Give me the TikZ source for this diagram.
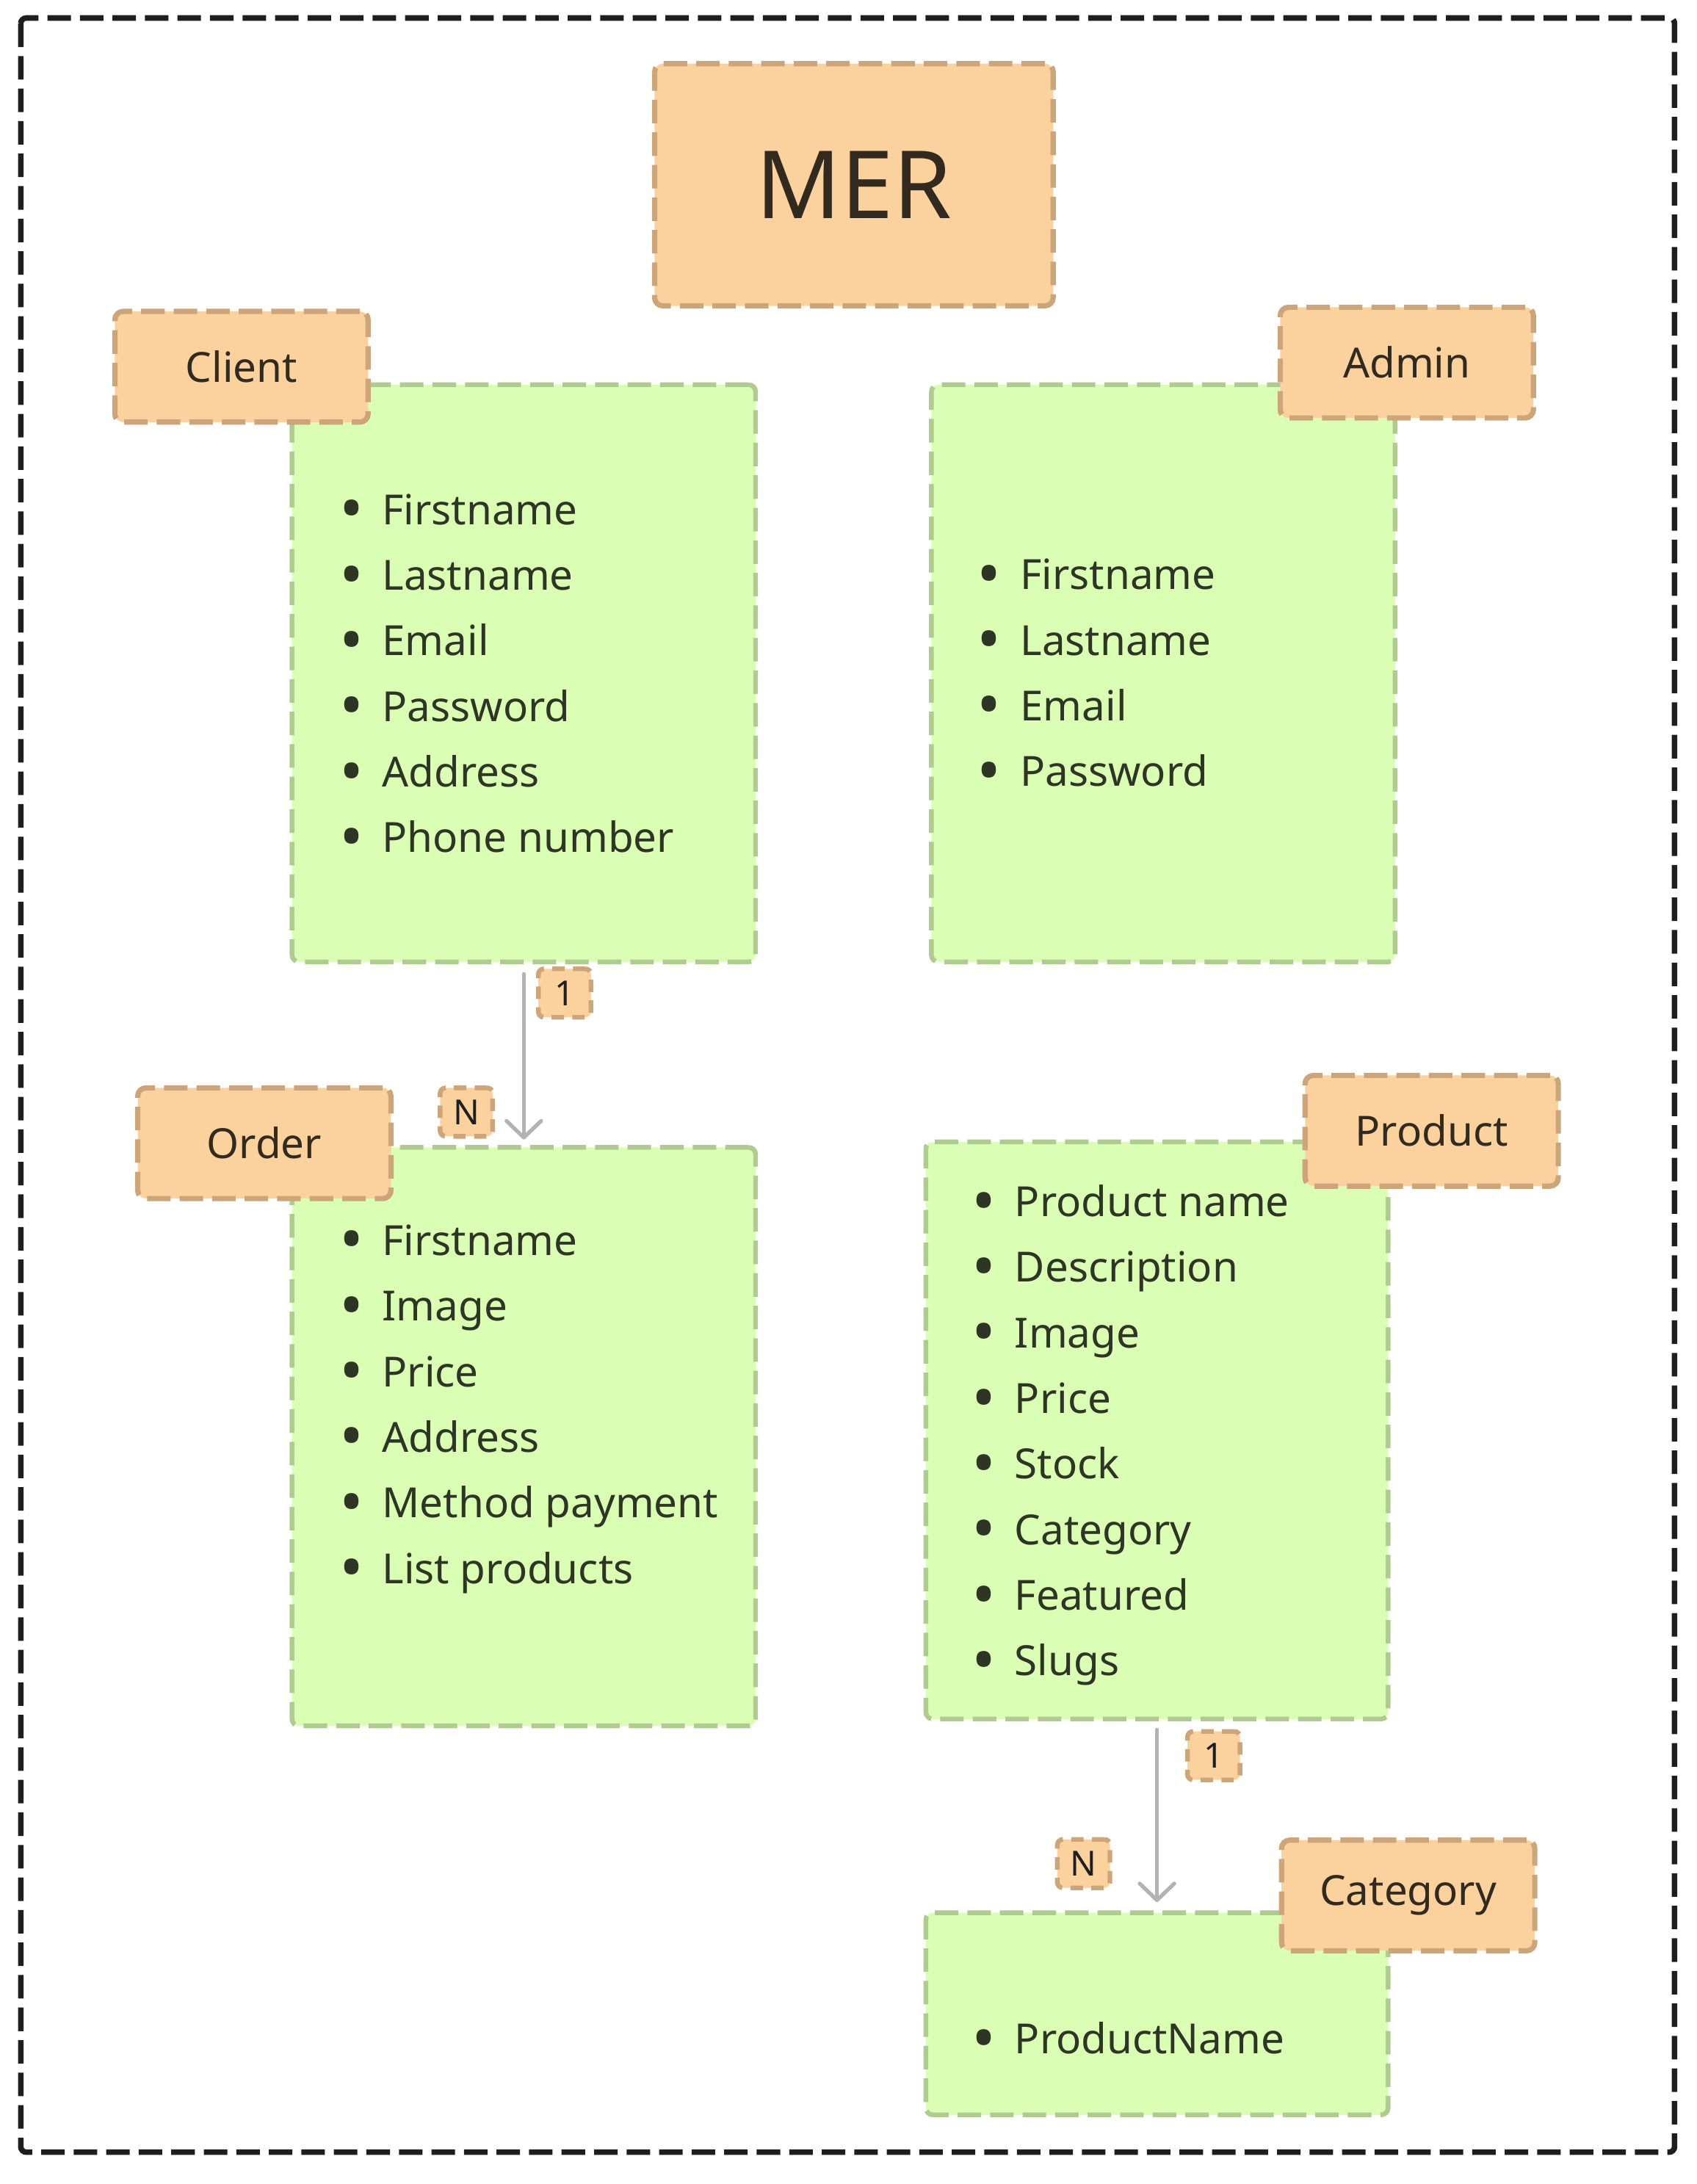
\documentclass[tikz,border=0pt]{standalone}
\usepackage{fontspec}
\usepackage{graphicx}
\setmainfont{Noto Sans}
\usetikzlibrary{arrows.meta}
\definecolor{lblfill}{HTML}{FBD19D}
\definecolor{lbldraw}{HTML}{CCA67A}
\definecolor{grfill}{HTML}{DAFFB4}
\definecolor{grdraw}{HTML}{AFCB91}
\definecolor{lbltext}{HTML}{332A1F}
\definecolor{grtext}{HTML}{2E3524}
\definecolor{arrowc}{HTML}{B3B3B3}
\definecolor{outerc}{HTML}{1E1E1E}
\tikzset{
  entity/.style={draw=grdraw, fill=grfill, line width=3.4pt, dash pattern=on 17pt off 6.5pt, rounded corners=5pt, minimum width=335pt, inner sep=0pt},
  tag/.style={draw=lbldraw, fill=lblfill, line width=3.8pt, dash pattern=on 17pt off 6.5pt, rounded corners=6pt, text=lbltext, font=\fontsize{30}{35}\selectfont, minimum width=183pt, minimum height=80pt, inner sep=0pt},
  card/.style={draw=lbldraw, fill=lblfill, line width=3.4pt, dash pattern=on 9pt off 6pt, rounded corners=4pt, text=black!88, font=\fontsize{25}{27}\selectfont, minimum width=38pt, minimum height=35pt, inner sep=0pt},
  attr/.style={text=grtext, font=\fontsize{30}{35}\selectfont, anchor=base west, inner sep=0pt},
  rel/.style={draw=arrowc, line width=2.8pt, line cap=round, -{Straight Barb[length=12pt,width=25pt,round]}},
  frame/.style={draw=outerc, line width=4pt, dash pattern=on 17pt off 6.5pt, rounded corners=4pt}
}
\newcommand{\bul}{\makebox[31pt][l]{\raisebox{-5pt}{\scalebox{1.55}{\textbullet}}}}
\begin{document}
\begin{tikzpicture}[x=1pt,y=-1pt]
\useasboundingbox (0,0) rectangle (1226,1578);
\draw[frame] (15,13) rectangle (1210,1555);

% entity boxes
\node[entity, minimum height=417pt] (client) at (378.5,486.5) {};
\node[entity, minimum height=417pt] (admin) at (840.5,486.5) {};
\node[entity, minimum height=418pt] (order) at (378.5,1038) {};
\node[entity, minimum width=334pt, minimum height=417pt] (product) at (836,1033.5) {};
\node[entity, minimum width=334pt, minimum height=146pt] (category) at (836,1455) {};

% title
\node[tag, minimum width=288pt, minimum height=175pt, font=\fontsize{68}{72}\selectfont] (mer) at (617,133.5) {MER};

% entity name tags
\node[tag] (clientlbl) at (174.5,265) {Client};
\node[tag] (adminlbl) at (1016.5,262) {Admin};
\node[tag] (orderlbl) at (191,826) {Order};
\node[tag] (productlbl) at (1034.5,817) {Product};
\node[tag] (categorylbl) at (1017.5,1369.5) {Category};

% attributes
\foreach \t [count=\i] in {Firstname,Lastname,Email,Password,Address,Phone number}
  \node[attr] (cl-\i) at (245,379+47.4*\i-47.4) {\bul\t};
\foreach \t [count=\i] in {Firstname,Lastname,Email,Password}
  \node[attr] (ad-\i) at (706,426+47.4*\i-47.4) {\bul\t};
\foreach \t [count=\i] in {Firstname,Image,Price,Address,Method payment,List products}
  \node[attr] (or-\i) at (245,907+47.4*\i-47.4) {\bul\t};
\foreach \t [count=\i] in {Product name,Description,Image,Price,Stock,Category,Featured,Slugs}
  \node[attr] (pr-\i) at (702,879+47.4*\i-47.4) {\bul\t};
\node[attr] (ca-1) at (702,1484) {\bul ProductName};

% relations
\draw[rel] ([yshift=-7pt]client.south) -- ([yshift=4pt]order.north);
\draw[rel] ([yshift=-6pt]product.south) -- ([yshift=6pt]category.north);

% cardinalities
\node[card] (c1a) at (408,717.5) {1};
\node[card] (c1b) at (337,803.5) {N};
\node[card] (c2a) at (877,1268.5) {1};
\node[card] (c2b) at (783,1346.5) {N};
\end{tikzpicture}
\end{document}
